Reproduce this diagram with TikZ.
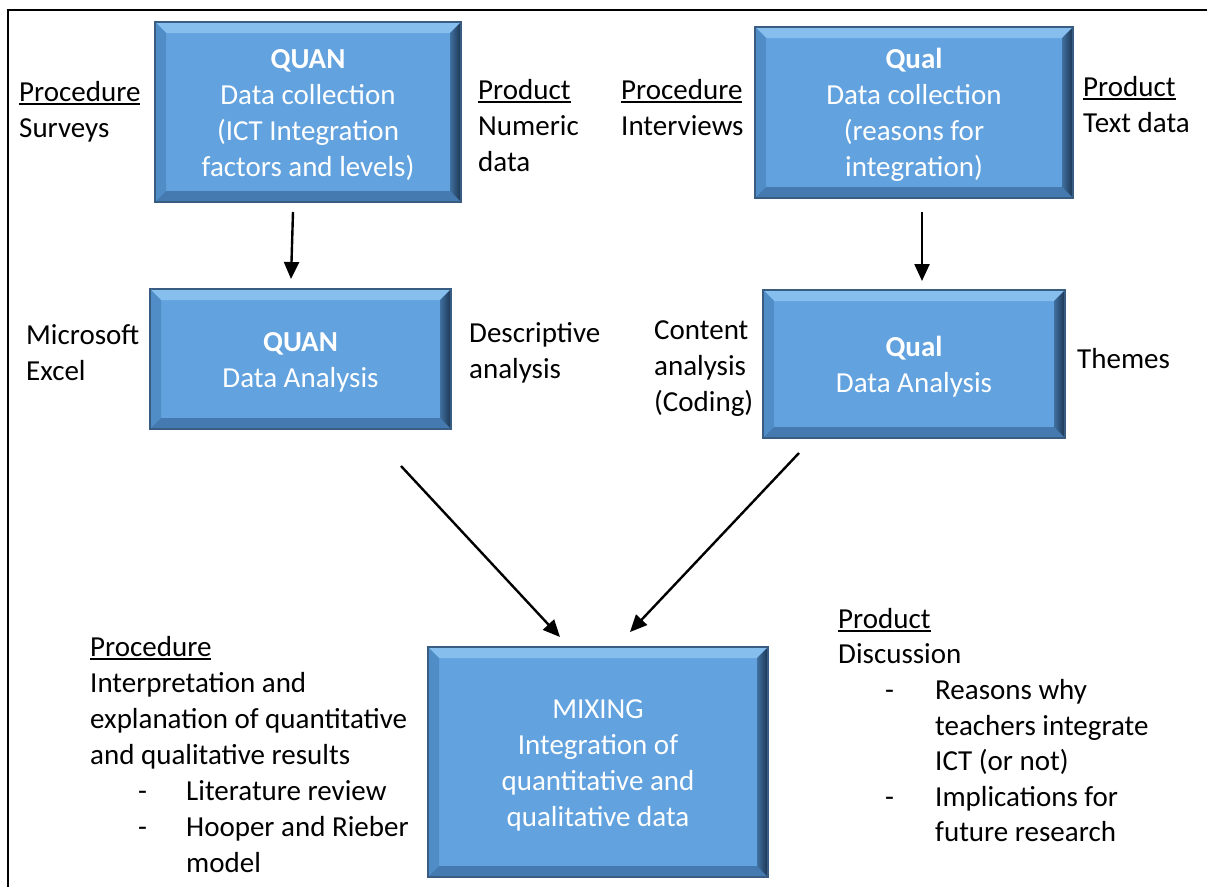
\documentclass[tikz,border=0pt]{standalone}
\usepackage{fontspec}
\setmainfont{Carlito}
\usetikzlibrary{arrows.meta}

% stage box colours (face, bevel bands, outline)
\definecolor{boxface}{RGB}{98,162,222}
\definecolor{boxtop}{RGB}{134,190,237}
\definecolor{boxleft}{RGB}{80,140,198}
\definecolor{boxbottom}{RGB}{68,122,176}
\definecolor{boxrightin}{RGB}{64,112,160}
\definecolor{boxrightout}{RGB}{28,52,80}
\definecolor{boxedge}{RGB}{56,92,130}

\newsavebox\ulbox
\newcommand\ulword[1]{\sbox\ulbox{#1}\rlap{\rule[-3.8pt]{\wd\ulbox}{1.8pt}}\usebox\ulbox}
% 29pt type on a 36pt line; the strut is then 25.2pt high
\newcommand\bodyfont{\fontsize{29}{36}\selectfont}
\newcommand\lastline{\rule[-4.5pt]{0pt}{4.5pt}}

\tikzset{
  stagebox/.style={rectangle, inner sep=0pt, fill=boxface, draw=boxedge, line width=1.5pt,
    text=white, align=center, font=\bodyfont,
    path picture={
      \fill[boxtop] (path picture bounding box.north west) -- (path picture bounding box.north east)
        -- ([shift={(-11pt,-11pt)}]path picture bounding box.north east)
        -- ([shift={(11pt,-11pt)}]path picture bounding box.north west) -- cycle;
      \fill[boxleft] (path picture bounding box.north west)
        -- ([shift={(11pt,-11pt)}]path picture bounding box.north west)
        -- ([shift={(11pt,11pt)}]path picture bounding box.south west)
        -- (path picture bounding box.south west) -- cycle;
      \fill[boxbottom] (path picture bounding box.south west)
        -- ([shift={(11pt,11pt)}]path picture bounding box.south west)
        -- ([shift={(-11pt,11pt)}]path picture bounding box.south east)
        -- (path picture bounding box.south east) -- cycle;
      \shade[left color=boxrightin, right color=boxrightout] (path picture bounding box.north east)
        -- ([shift={(-11pt,-11pt)}]path picture bounding box.north east)
        -- ([shift={(-11pt,11pt)}]path picture bounding box.south east)
        -- (path picture bounding box.south east) -- cycle;
    }},
  note/.style={anchor=north west, inner sep=0pt, align=left, font=\bodyfont, text=black},
  flow/.style={line width=2.4pt, -{Triangle[length=17pt,width=15pt]}},
  frameline/.style={line width=2.6pt, line cap=rect}
}

\begin{document}
\begin{tikzpicture}[x=1pt,y=-1pt]
\useasboundingbox (0,0) rectangle (1207,886);

% page frame (left and top rules)
\draw[frameline] (8,890) -- (8,10) -- (1210,10);

% stage boxes
\node[stagebox, minimum width=306pt, minimum height=180pt] (quancol) at (308,112)
  {\strut\textbf{QUAN}\\Data collection\\(ICT Integration\\factors and levels)\lastline};
\node[stagebox, minimum width=318pt, minimum height=171pt] (qualcol) at (914,112.5)
  {\strut\textbf{Qual}\\Data collection\\(reasons for\\integration)\lastline};
\node[stagebox, minimum width=301pt, minimum height=140pt] (quanana) at (300.5,359)
  {\strut\textbf{QUAN}\\Data Analysis\lastline};
\node[stagebox, minimum width=302pt, minimum height=148pt] (qualana) at (914,364)
  {\strut\textbf{Qual}\\Data Analysis\lastline};
\node[stagebox, minimum width=340pt, minimum height=230pt] (mixing) at (598,762)
  {\strut MIXING\\Integration of\\quantitative and\\qualitative data\lastline};

% side notes (placed by first baseline minus strut height)
\node[note] (quanproc) at (19,{101-25.2}) {\strut\ulword{Procedure}\\Surveys};
\node[note] (quanprod) at (478,{99-25.2}) {\strut\ulword{Product}\\Numeric\\data};
\node[note] (qualproc) at (621,{99-25.2}) {\strut\ulword{Procedure}\\Interviews};
\node[note] (qualprod) at (1083,{96-25.2}) {\strut\ulword{Product}\\Text data};
\node[note] (quantool) at (26,{344-25.2}) {\strut Microsoft\\Excel};
\node[note] (quanres) at (469,{342-25.2}) {\strut Descriptive\\analysis};
\node[note] (qualtool) at (654,{339-25.2}) {\strut Content\\analysis\\(Coding)};
\node[note] (qualres) at (1077,{368-25.2}) {\strut Themes};
\node[note] (mixproc) at (90,{656-25.2}) {\strut\ulword{Procedure}\\
  Interpretation and\\
  explanation of quantitative\\
  and qualitative results\\
  \hspace*{48pt}\makebox[48pt][l]{-}Literature review\\
  \hspace*{48pt}\makebox[48pt][l]{-}Hooper and Rieber\\
  \hspace*{96pt}model};
\node[note, font=\fontsize{29}{35.6}\selectfont] (mixprod) at (838,{628-24.9}) {\strut\ulword{Product}\\
  Discussion\\
  \hspace*{47pt}\makebox[50pt][l]{-}Reasons why\\
  \hspace*{97pt}teachers integrate\\
  \hspace*{97pt}ICT (or not)\\
  \hspace*{47pt}\makebox[50pt][l]{-}Implications for\\
  \hspace*{97pt}future research};

% flow arrows
\coordinate (a1s) at (293,212); \coordinate (a1e) at (291,279);
\coordinate (a2s) at (922,212); \coordinate (a2e) at (922,281);
\coordinate (a3s) at (401,466); \coordinate (a3e) at (560,637);
\coordinate (a4s) at (799,453); \coordinate (a4e) at (630,632);
\draw[flow] (a1s) -- (a1e);
\draw[flow] (a2s) -- (a2e);
\draw[flow] (a3s) -- (a3e);
\draw[flow] (a4s) -- (a4e);
\end{tikzpicture}
\end{document}
